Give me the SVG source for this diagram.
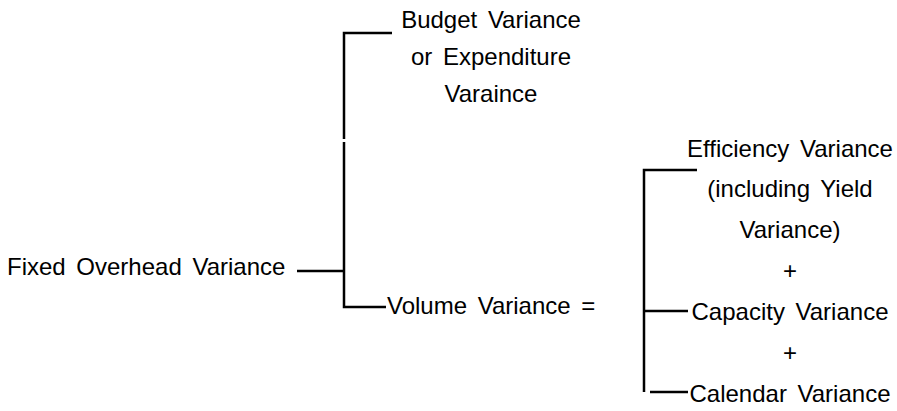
<svg xmlns="http://www.w3.org/2000/svg" width="897" height="411" viewBox="0 0 897 411">
<style>
text{font-family:"Liberation Sans",Arial,sans-serif;font-size:24px;fill:#000;word-spacing:4px}
.c{text-anchor:middle}
.ln{stroke:#000;stroke-width:2.5;fill:none}
</style>
<rect width="897" height="411" fill="#fff"/>
<g id="connectors">
<path class="ln" d="M297,271 H344"/>
<path class="ln" d="M392,33 H344 V139"/>
<path class="ln" d="M344,142 V307 H386"/>
<path class="ln" d="M697,170 H644 V392"/>
<path class="ln" d="M644,311 H688"/>
<path class="ln" d="M650,392 H688"/>
</g>
<g id="fixed-overhead"><text x="7" y="275">Fixed Overhead Variance</text></g>
<g id="budget-variance">
<text class="c" x="491" y="28">Budget Variance</text>
<text class="c" x="491" y="65">or Expenditure</text>
<text class="c" x="491" y="102">Varaince</text>
</g>
<g id="volume-variance"><text x="387" y="314">Volume Variance =</text></g>
<g id="efficiency-variance">
<text class="c" x="790" y="157">Efficiency Variance</text>
<text class="c" x="790" y="197">(including Yield</text>
<text class="c" x="790" y="238">Variance)</text>
</g>
<g id="plus1"><text class="c" x="790" y="279">+</text></g>
<g id="capacity-variance"><text class="c" x="790" y="320">Capacity Variance</text></g>
<g id="plus2"><text class="c" x="790" y="361">+</text></g>
<g id="calendar-variance"><text class="c" x="790" y="402">Calendar Variance</text></g>
</svg>
